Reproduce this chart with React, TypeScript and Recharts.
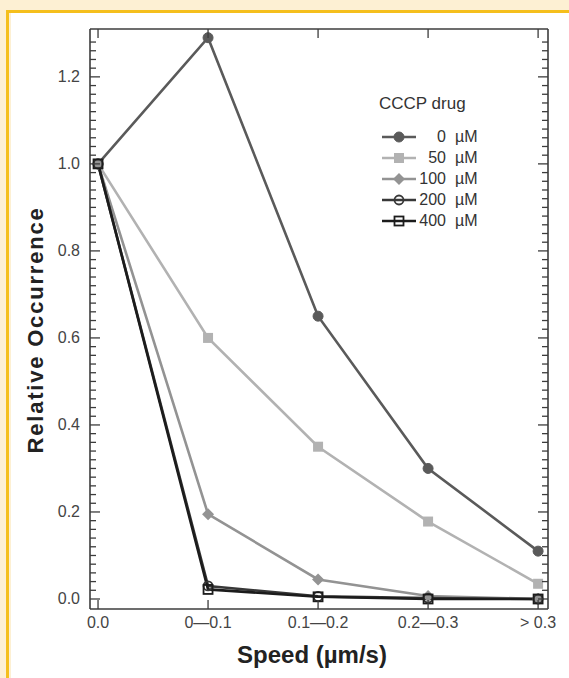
import React from "react";
import { LineChart, Line, XAxis, YAxis, Label } from "recharts";

// speed bins (x positions 0..4 on a numeric axis)
const categories = ["0.0", "0\u20140.1", "0.1\u20140.2", "0.2\u20140.3", "> 0.3"];
const xPositions = [0, 1, 2, 3, 4];

// relative occurrence per CCCP concentration
const conc0 = [1.0, 1.29, 0.65, 0.3, 0.11];
const conc50 = [1.0, 0.6, 0.35, 0.178, 0.035];
const conc100 = [1.0, 0.195, 0.045, 0.007, 0.0];
const conc200 = [1.0, 0.03, 0.006, 0.002, 0.0];
const conc400 = [1.0, 0.022, 0.005, 0.0, 0.0];

const concLabels = ["0", "50", "100", "200", "400"];
const yMajorTicks = [0, 0.2, 0.4, 0.6, 0.8, 1.0, 1.2];
// minor ticks every 0.02 up to 1.28
const yAllTicks = Array.from({ length: 65 }, (_, i) => +(i * 0.02).toFixed(2));

const data = xPositions.map((x, i) => ({
  x,
  c0: conc0[i],
  c50: conc50[i],
  c100: conc100[i],
  c200: conc200[i],
  c400: conc400[i],
}));

const AXIS = "#3c3c3c";
const TICK_TEXT = "#444";
const FONT = '"Liberation Sans", Arial, Helvetica, sans-serif';
const X_DOMAIN: [number, number] = [-0.073, 4.09];
const Y_DOMAIN: [number, number] = [-0.023, 1.31];

type Shape = "circle" | "square" | "diamond" | "openCircle" | "openSquare";

const series: { key: string; label: string; color: string; shape: Shape }[] = [
  { key: "c0", label: concLabels[0], color: "#5a5a5a", shape: "circle" },
  { key: "c50", label: concLabels[1], color: "#b2b2b2", shape: "square" },
  { key: "c100", label: concLabels[2], color: "#939393", shape: "diamond" },
  { key: "c200", label: concLabels[3], color: "#383838", shape: "openCircle" },
  { key: "c400", label: concLabels[4], color: "#1c1c1c", shape: "openSquare" },
];

const Marker = ({ cx, cy, shape, color }: { cx: number; cy: number; shape: Shape; color: string }) => {
  if (cx == null || cy == null) return null;
  switch (shape) {
    case "circle":
      return <circle cx={cx} cy={cy} r={5} fill={color} stroke={color} strokeWidth={1} />;
    case "square":
      return <rect x={cx - 5} y={cy - 5} width={10} height={10} fill={color} />;
    case "diamond":
      return (
        <polygon
          points={`${cx},${cy - 6} ${cx + 6},${cy} ${cx},${cy + 6} ${cx - 6},${cy}`}
          fill={color}
        />
      );
    case "openCircle":
      return <circle cx={cx} cy={cy} r={4.5} fill="none" stroke={color} strokeWidth={1.8} />;
    case "openSquare":
      return (
        <rect x={cx - 4.5} y={cy - 4.5} width={9} height={9} fill="none" stroke={color} strokeWidth={1.8} />
      );
  }
  return null;
};

const isMajor = (v: number) => yMajorTicks.some((t) => Math.abs(t - v) < 1e-6);

// eslint-disable-next-line @typescript-eslint/no-explicit-any
const LeftTick = ({ x, y, payload }: any) => {
  const major = isMajor(payload.value);
  return (
    <g>
      <line x1={x} x2={x + (major ? 10 : 6)} y1={y} y2={y} stroke={AXIS} strokeWidth={1.3} />
      {major && (
        <text x={x - 10} y={y + 5.5} textAnchor="end" fontSize={16} fill={TICK_TEXT} fontFamily={FONT}>
          {Number(payload.value).toFixed(1)}
        </text>
      )}
    </g>
  );
};

// eslint-disable-next-line @typescript-eslint/no-explicit-any
const RightTick = ({ x, y, payload }: any) => {
  const major = isMajor(payload.value);
  return <line x1={x} x2={x - (major ? 10 : 6)} y1={y} y2={y} stroke={AXIS} strokeWidth={1.3} />;
};

// eslint-disable-next-line @typescript-eslint/no-explicit-any
const BottomTick = ({ x, y, payload }: any) => (
  <g>
    <line x1={x} x2={x} y1={y} y2={y - 9} stroke={AXIS} strokeWidth={1.3} />
    <text x={x} y={y + 19} textAnchor="middle" fontSize={16} fill={TICK_TEXT} fontFamily={FONT}>
      {categories[payload.value]}
    </text>
  </g>
);

// eslint-disable-next-line @typescript-eslint/no-explicit-any
const TopTick = ({ x, y }: any) => (
  <line x1={x} x2={x} y1={y} y2={y + 9} stroke={AXIS} strokeWidth={1.3} />
);

const YTitle = () => (
  <text
    x={43}
    y={330}
    transform="rotate(-90 43 330)"
    textAnchor="middle"
    fontSize={22}
    fontWeight="bold"
    letterSpacing={1.8}
    fill="#222"
    fontFamily={FONT}
  >
    Relative Occurrence
  </text>
);

const XTitle = () => (
  <text x={312} y={663} textAnchor="middle" fontSize={24} fontWeight="bold" fill="#222" fontFamily={FONT}>
    Speed (µm/s)
  </text>
);

const LegendSwatch = ({ shape, color }: { shape: Shape; color: string }) => (
  <svg width={36} height={20} style={{ display: "block" }}>
    <line x1={1} x2={35} y1={10} y2={10} stroke={color} strokeWidth={2.4} />
    <Marker cx={18} cy={10} shape={shape} color={color} />
  </svg>
);

const App = () => {
  return (
    <div
      style={{
        position: "absolute",
        left: 0,
        top: 0,
        width: 569,
        height: 678,
        background: "#fff",
        overflow: "hidden",
        fontFamily: FONT,
      }}
    >
      {/* page frame */}
      <div style={{ position: "absolute", left: 0, top: 0, width: 569, height: 10, background: "#fdf0d3" }} />
      <div style={{ position: "absolute", left: 0, top: 0, width: 6, height: 678, background: "#fdf0d3" }} />
      <div style={{ position: "absolute", left: 6, top: 10, width: 563, height: 3, background: "#f5bf1c" }} />
      <div style={{ position: "absolute", left: 6, top: 10, width: 3, height: 668, background: "#f5bf1c" }} />
      <div style={{ position: "absolute", left: 9, top: 13, width: 2, height: 665, background: "#fdf0d3" }} />

      <div style={{ position: "absolute", left: 0, top: 0 }}>
        <LineChart width={569} height={678} data={data} margin={{ top: 28, right: 20, bottom: 68, left: 89 }}>
          <XAxis
            xAxisId="b"
            dataKey="x"
            type="number"
            domain={X_DOMAIN}
            allowDataOverflow
            ticks={xPositions}
            interval={0}
            height={1}
            tickSize={0}
            tickMargin={0}
            tickLine={false}
            axisLine={{ stroke: AXIS, strokeWidth: 1.6 }}
            tick={(p) => <BottomTick {...p} />}
          >
            <Label content={<XTitle />} />
          </XAxis>
          <XAxis
            xAxisId="t"
            orientation="top"
            dataKey="x"
            type="number"
            domain={X_DOMAIN}
            allowDataOverflow
            ticks={xPositions}
            interval={0}
            height={1}
            tickSize={0}
            tickMargin={0}
            tickLine={false}
            axisLine={{ stroke: AXIS, strokeWidth: 1.6 }}
            tick={(p) => <TopTick {...p} />}
          />
          <YAxis
            yAxisId="l"
            type="number"
            domain={Y_DOMAIN}
            allowDataOverflow
            ticks={yAllTicks}
            interval={0}
            width={1}
            tickSize={0}
            tickMargin={0}
            tickLine={false}
            axisLine={{ stroke: AXIS, strokeWidth: 1.6 }}
            tick={(p) => <LeftTick {...p} />}
          >
            <Label content={<YTitle />} />
          </YAxis>
          <YAxis
            yAxisId="r"
            orientation="right"
            type="number"
            domain={Y_DOMAIN}
            allowDataOverflow
            ticks={yAllTicks}
            interval={0}
            width={1}
            tickSize={0}
            tickMargin={0}
            tickLine={false}
            axisLine={{ stroke: AXIS, strokeWidth: 1.6 }}
            tick={(p) => <RightTick {...p} />}
          />
          {series.map((s) => (
            <Line
              key={s.key}
              xAxisId="b"
              yAxisId="l"
              type="linear"
              dataKey={s.key}
              stroke={s.color}
              strokeWidth={2.6}
              isAnimationActive={false}
              // eslint-disable-next-line @typescript-eslint/no-explicit-any
              dot={(p: any) => (
                <Marker key={`${s.key}-${p.index}`} cx={p.cx} cy={p.cy} shape={s.shape} color={s.color} />
              )}
              activeDot={false}
            />
          ))}
        </LineChart>
      </div>

      {/* legend */}
      <div style={{ position: "absolute", left: 379, top: 94, fontSize: 17, color: "#333", lineHeight: "20px" }}>
        CCCP drug
      </div>
      {series.map((s, i) => (
        <div
          key={s.key}
          style={{
            position: "absolute",
            left: 381,
            top: 127 + i * 21,
            height: 20,
            display: "flex",
            alignItems: "center",
            fontSize: 16,
            color: "#333",
            lineHeight: "20px",
          }}
        >
          <LegendSwatch shape={s.shape} color={s.color} />
          <span style={{ width: 29, textAlign: "right" }}>{s.label}</span>
          <span style={{ marginLeft: 9 }}>µM</span>
        </div>
      ))}
    </div>
  );
};

export default App;
